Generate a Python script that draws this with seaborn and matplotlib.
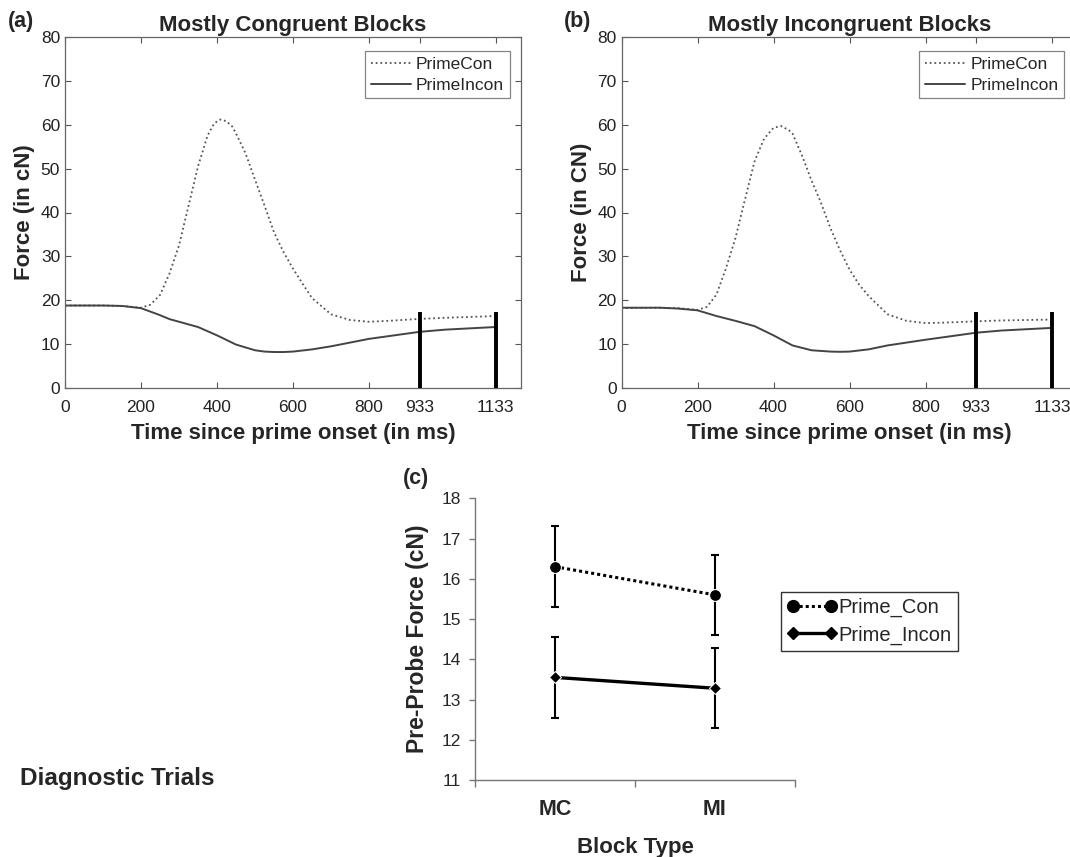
import numpy as np
import pandas as pd
import matplotlib
matplotlib.use("Agg")
import matplotlib.pyplot as plt
import seaborn as sns
from matplotlib.lines import Line2D

sns.set_theme(style="white")
plt.rcParams['font.family'] = ['Liberation Sans', 'DejaVu Sans']

# ---------------- data ----------------
# Panel (a): Mostly Congruent Blocks
time_con_a = [0, 100, 150, 200, 225, 250, 275, 300, 325, 350, 375, 390, 400, 410, 425, 440, 450,
              475, 500, 525, 550, 575, 600, 625, 650, 700, 750, 800, 850, 933, 1000, 1133]
force_con_a = [18.8, 18.8, 18.7, 18.3, 19.0, 21.2, 26.1, 32.5, 41.5, 50.5, 57.5, 59.9, 60.8, 61.2, 60.8, 59.6, 58.0,
               53.5, 47.5, 41.6, 35.5, 31.0, 27.2, 23.8, 20.5, 16.8, 15.5, 15.1, 15.3, 15.75, 16.0, 16.4]
time_incon_a = [0, 100, 150, 200, 250, 275, 300, 350, 400, 450, 500, 525, 550, 575, 600, 650, 700,
                800, 933, 1000, 1133]
force_incon_a = [18.8, 18.8, 18.7, 18.2, 16.6, 15.7, 15.1, 13.9, 12.0, 9.9, 8.6, 8.3, 8.2, 8.2, 8.3, 8.8, 9.5,
                 11.2, 12.8, 13.3, 13.9]

# Panel (b): Mostly Incongruent Blocks
time_con_b = [0, 100, 150, 200, 225, 250, 275, 300, 325, 350, 375, 400, 420, 440, 450, 475,
              500, 525, 550, 575, 600, 625, 650, 700, 750, 800, 850, 933, 1000, 1133]
force_con_b = [18.2, 18.3, 18.2, 17.8, 18.5, 21.3, 27.3, 34.2, 43.0, 51.6, 56.8, 59.3, 59.7, 58.8, 58.0, 53.0,
               47.3, 42.2, 36.4, 31.4, 27.0, 23.6, 21.0, 16.8, 15.3, 14.8, 14.9, 15.2, 15.4, 15.6]
time_incon_b = [0, 100, 150, 200, 250, 300, 350, 400, 450, 500, 550, 575, 600, 650, 700, 800,
                900, 933, 1000, 1133]
force_incon_b = [18.3, 18.3, 18.1, 17.7, 16.4, 15.3, 14.1, 12.0, 9.7, 8.6, 8.3, 8.25, 8.3, 8.8, 9.7, 11.0,
                 12.2, 12.6, 13.1, 13.7]

window_times = [933, 1133]
window_top = [17.3, 17.4]
x_ticks_ms = [0, 200, 400, 600, 800, 933, 1133]
y_ticks_force = [0, 10, 20, 30, 40, 50, 60, 70, 80]

# Panel (c): Diagnostic trials
block_types = ['MC', 'MI']
prime_con_mean = [16.3, 15.6]
prime_con_err = [1.0, 1.0]
prime_incon_mean = [13.55, 13.28]
prime_incon_err = [1.0, 1.0]
y_ticks_c = [11, 12, 13, 14, 15, 16, 17, 18]

# ---------------- figure ----------------
W, H = 1070, 857
fig = plt.figure(figsize=(W / 100, H / 100), dpi=100)


def fx(px):
    return px / W


def fy(py):
    return 1 - py / H


DOT = (0, (1, 1.6))


def time_panel(ax, tc, fc, ti, fi, title, ylabel, leg_x):
    df_c = pd.DataFrame({'time': tc, 'force': fc})
    df_i = pd.DataFrame({'time': ti, 'force': fi})
    sns.lineplot(data=df_c, x='time', y='force', ax=ax, color='#555555',
                 linewidth=1.3, linestyle=DOT, estimator=None, sort=False)
    sns.lineplot(data=df_i, x='time', y='force', ax=ax, color='#444444',
                 linewidth=1.4, estimator=None, sort=False)
    ax.vlines(window_times, 0, window_top, colors='black', linewidth=2.8, zorder=5)
    ax.set_xlim(0, 1200)
    ax.set_ylim(0, 80)
    ax.set_xticks(x_ticks_ms)
    ax.set_yticks(y_ticks_force)
    ax.tick_params(direction='in', length=4, width=0.8, color='#555555',
                   top=True, right=True, bottom=True, left=True,
                   labelsize=12.5, labelcolor='#222222')
    ax.tick_params(axis='x', pad=8.5)
    ax.tick_params(axis='y', pad=3.5)
    for s in ax.spines.values():
        s.set_visible(True)
        s.set_color('#666666')
        s.set_linewidth(0.9)
    ax.set_title(title, fontsize=16, fontweight='bold', pad=4)
    ax.set_xlabel('Time since prime onset (in ms)', fontsize=16, fontweight='bold', labelpad=6)
    ax.set_ylabel(ylabel, fontsize=16, fontweight='bold', labelpad=4)
    handles = [Line2D([0], [0], color='#555555', lw=1.3, ls=DOT),
               Line2D([0], [0], color='#444444', lw=1.4)]
    leg = ax.legend(handles, ['PrimeCon', 'PrimeIncon'], loc='upper right',
                    bbox_to_anchor=(leg_x, 0.959), borderaxespad=0, fontsize=12.5,
                    frameon=True, fancybox=False, edgecolor='#666666',
                    handlelength=2.3, handletextpad=0.3, labelspacing=0.32,
                    borderpad=0.32)
    leg.get_frame().set_linewidth(0.9)


# panel (a)
ax_a = fig.add_axes([fx(65), fy(388), fx(521 - 65), (388 - 37) / H])
time_panel(ax_a, time_con_a, force_con_a, time_incon_a, force_incon_a,
           'Mostly Congruent Blocks', 'Force (in cN)', 0.975)

# panel (b)
ax_b = fig.add_axes([fx(621.5), fy(388), fx(456), (388 - 37) / H])
time_panel(ax_b, time_con_b, force_con_b, time_incon_b, force_incon_b,
           'Mostly Incongruent Blocks', 'Force (in CN)', 0.970)

# panel (c)
ax_c = fig.add_axes([fx(475), fy(780), fx(795 - 475), (780 - 498.3) / H])
xpos = [0, 1]
df_pc = pd.DataFrame({'x': xpos, 'y': prime_con_mean})
df_pi = pd.DataFrame({'x': xpos, 'y': prime_incon_mean})
ax_c.errorbar(xpos, prime_con_mean, yerr=prime_con_err, fmt='none', ecolor='black',
              elinewidth=1.5, capsize=3, capthick=1.5)
ax_c.errorbar(xpos, prime_incon_mean, yerr=prime_incon_err, fmt='none', ecolor='black',
              elinewidth=1.5, capsize=3, capthick=1.5)
sns.lineplot(data=df_pc, x='x', y='y', ax=ax_c, color='black', linewidth=2.2,
             linestyle=(0, (1, 1)), marker='o', markersize=8.5, estimator=None)
sns.lineplot(data=df_pi, x='x', y='y', ax=ax_c, color='black', linewidth=2.4,
             marker='D', markersize=6.5, estimator=None)
ax_c.set_xlim(-0.5, 1.5)
ax_c.set_ylim(11, 18)
ax_c.set_yticks(y_ticks_c)
ax_c.set_xticks(xpos)
ax_c.set_xticklabels(block_types, fontsize=15.5, fontweight='bold')
ax_c.set_xticks([-0.5, 0.5, 1.5], minor=True)
ax_c.tick_params(axis='x', which='major', length=0, pad=14)
ax_c.tick_params(axis='x', which='minor', length=5, width=1, color='#777777', direction='out', bottom=True)
ax_c.tick_params(axis='y', which='major', length=4, width=1, color='#777777', direction='out',
                 left=True, labelsize=12.5, pad=6)
for name, s in ax_c.spines.items():
    if name in ('top', 'right'):
        s.set_visible(False)
    else:
        s.set_visible(True)
        s.set_color('#777777')
        s.set_linewidth(1.0)
ax_c.set_xlabel('Block Type', fontsize=16, fontweight='bold', labelpad=12)
ax_c.set_ylabel('Pre-Probe Force (cN)', fontsize=16.5, fontweight='bold', labelpad=9)

handles_c = [Line2D([0], [0], color='black', lw=2.2, ls=(0, (1, 1)), marker='o', markersize=8.5),
             Line2D([0], [0], color='black', lw=2.4, marker='D', markersize=6.5)]
leg_c = fig.legend(handles_c, ['Prime_Con', 'Prime_Incon'], loc='upper left',
                   bbox_to_anchor=(fx(781), fy(592)), fontsize=14.5, frameon=True,
                   fancybox=False, edgecolor='black', numpoints=2, handlelength=2.5,
                   handletextpad=0.05, labelspacing=0.4, borderpad=0.3, borderaxespad=0)
leg_c.get_frame().set_linewidth(1.0)

# panel letters and side label
fig.text(fx(8), fy(21), '(a)', fontsize=15.5, fontweight='bold', va='center', ha='left')
fig.text(fx(564), fy(21), '(b)', fontsize=15.5, fontweight='bold', va='center', ha='left')
fig.text(fx(403), fy(479), '(c)', fontsize=15.5, fontweight='bold', va='center', ha='left')
fig.text(fx(20), fy(779), 'Diagnostic Trials', fontsize=17.5, fontweight='bold', va='center', ha='left')

fig.savefig('out.png', dpi=100)
